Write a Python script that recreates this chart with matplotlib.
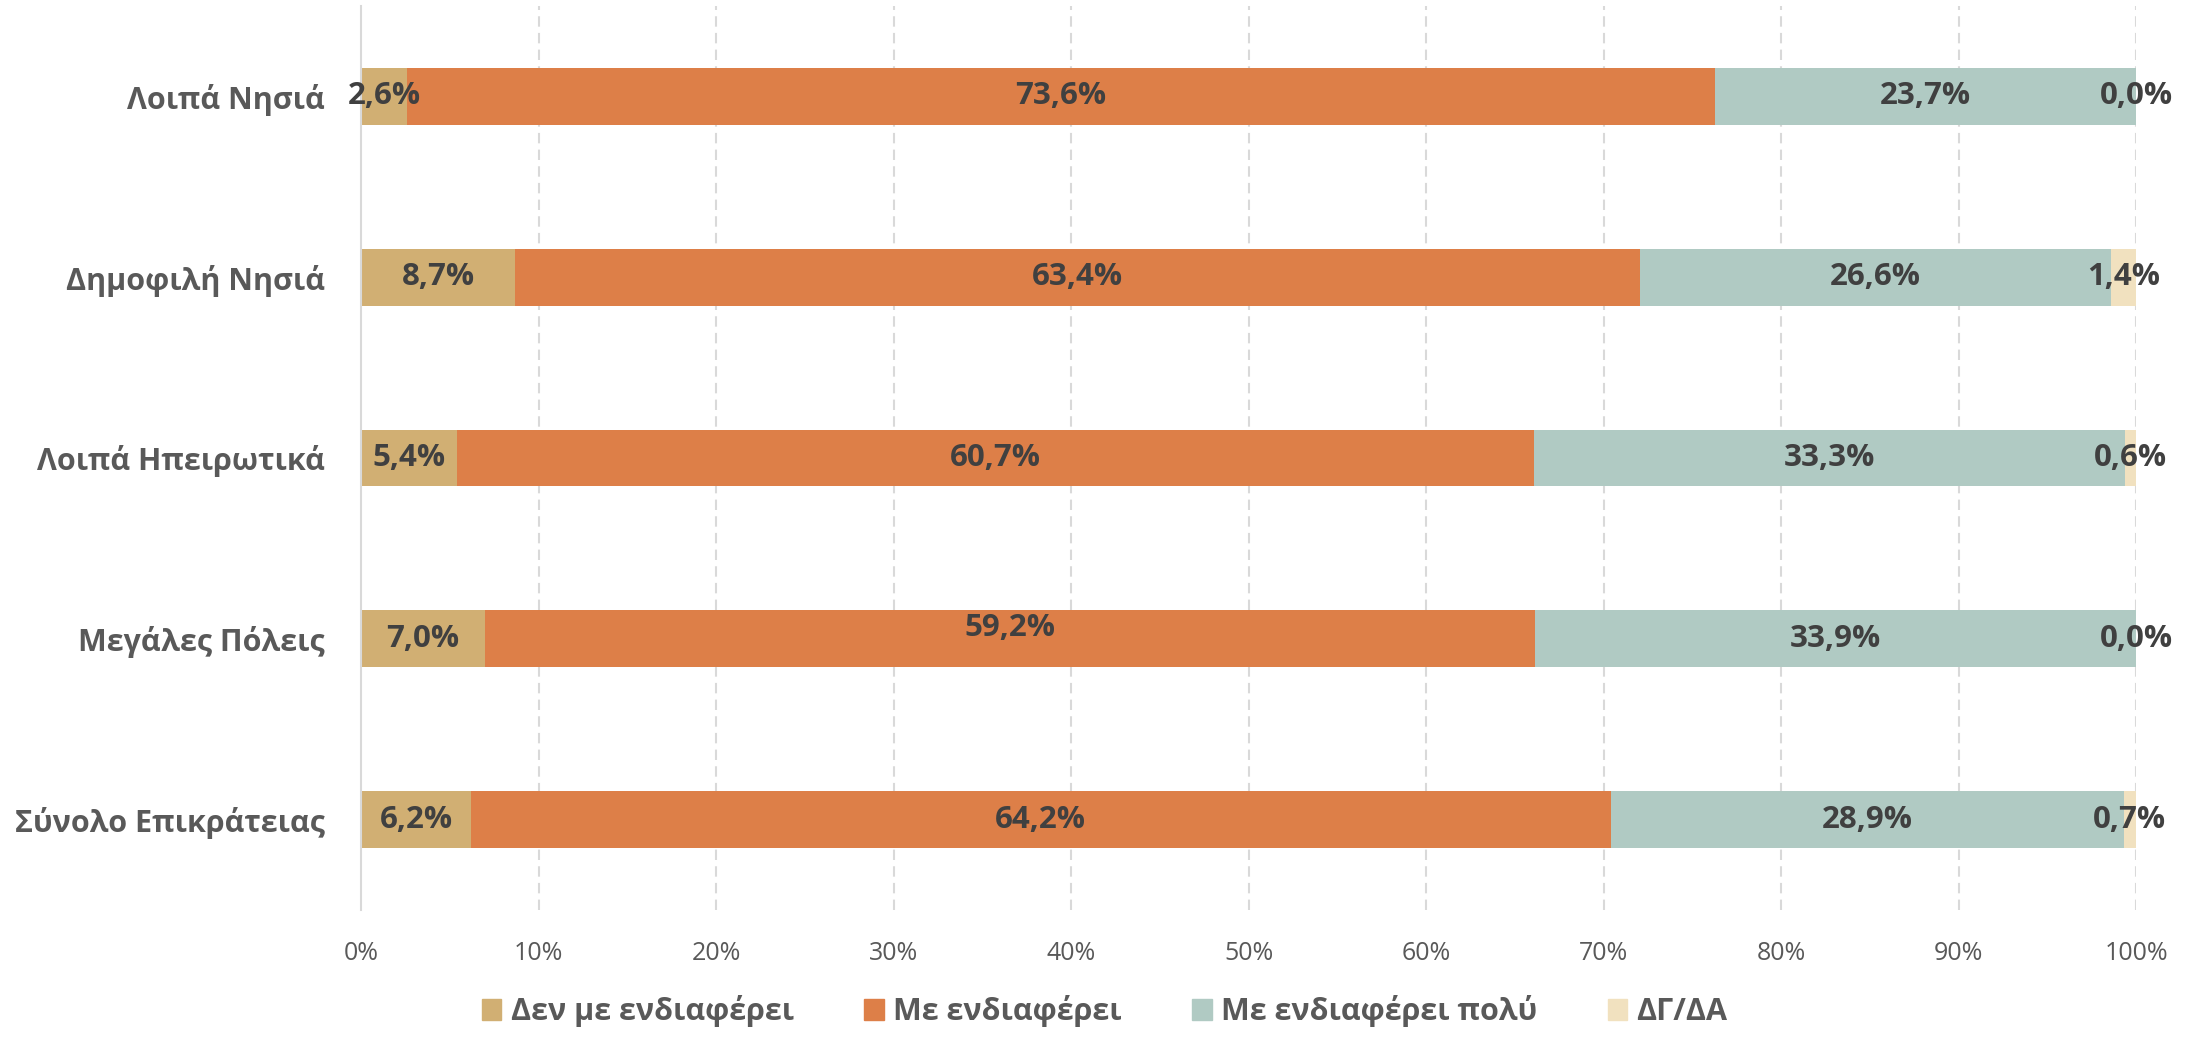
import numpy as np
import matplotlib.pyplot as plt
from matplotlib.patches import Patch

plt.rcParams['font.family'] = ['Open Sans', 'DejaVu Sans']

# data (top to bottom as in the chart)
categories = ["Λοιπά Νησιά", "Δημοφιλή Νησιά", "Λοιπά Ηπειρωτικά", "Μεγάλες Πόλεις", "Σύνολο Επικράτειας"]
series_names = ["Δεν με ενδιαφέρει", "Με ενδιαφέρει", "Με ενδιαφέρει πολύ", "ΔΓ/ΔΑ"]
not_interested = [2.6, 8.7, 5.4, 7.0, 6.2]
interested = [73.6, 63.4, 60.7, 59.2, 64.2]
very_interested = [23.7, 26.6, 33.3, 33.9, 28.9]
dk_na = [0.0, 1.4, 0.6, 0.0, 0.7]
colors = ["#D1AF73", "#DD7F48", "#B0CAC3", "#F1E1BF"]

values = np.array([not_interested, interested, very_interested, dk_na])
shares = values / values.sum(axis=0) * 100  # 100% stacked

fig = plt.figure(figsize=(21.96, 10.37), dpi=100)
ax = fig.add_axes([0.1644, 0.1225, 0.8083, 0.8717])

y = np.arange(len(categories))[::-1]
left = np.zeros(len(categories))
for i, name in enumerate(series_names):
    ax.barh(y, shares[i], left=left, height=0.315, color=colors[i], label=name, zorder=2)
    for j in range(len(categories)):
        cx = left[j] + shares[i][j] / 2
        dy = 0
        if i == 1 and j == 3:
            dy = 0.06  # label sits a little high in the original
        ax.text(cx, y[j] + dy, f"{values[i][j]:.1f}%".replace(".", ","),
                ha="center", va="center", fontsize=22.5, fontweight="bold", color="#404040", zorder=3)
    left += shares[i]

ax.set_xlim(0, 100)
ax.set_ylim(-0.5, 4.5)
ax.set_xticks(np.arange(0, 101, 10))
ax.set_xticklabels([f"{t}%" for t in range(0, 101, 10)], fontsize=18, color="#595959")
ax.set_yticks(y)
ax.set_yticklabels(categories, fontsize=22, fontweight="bold", color="#595959")
ax.tick_params(axis="both", length=0)
ax.tick_params(axis="x", pad=22)
ax.tick_params(axis="y", pad=26)

for t in range(10, 101, 10):
    ax.axvline(t, color="#D9D9D9", lw=1.5, ls=(0, (5, 3)), zorder=1)
for s in ["top", "right", "bottom"]:
    ax.spines[s].set_visible(False)
ax.spines["left"].set_color("#D9D9D9")
ax.spines["left"].set_linewidth(1.5)

handles = [Patch(color=c) for c in colors]
leg = fig.legend(handles, series_names, loc="center", bbox_to_anchor=(0.503, 0.025), ncol=4,
                 frameon=False, fontsize=22, handlelength=0.65, handleheight=0.65,
                 handletextpad=0.3, columnspacing=2.3)
for txt in leg.get_texts():
    txt.set_color("#595959")
    txt.set_fontweight("bold")

fig.savefig("out.png", dpi=100)
